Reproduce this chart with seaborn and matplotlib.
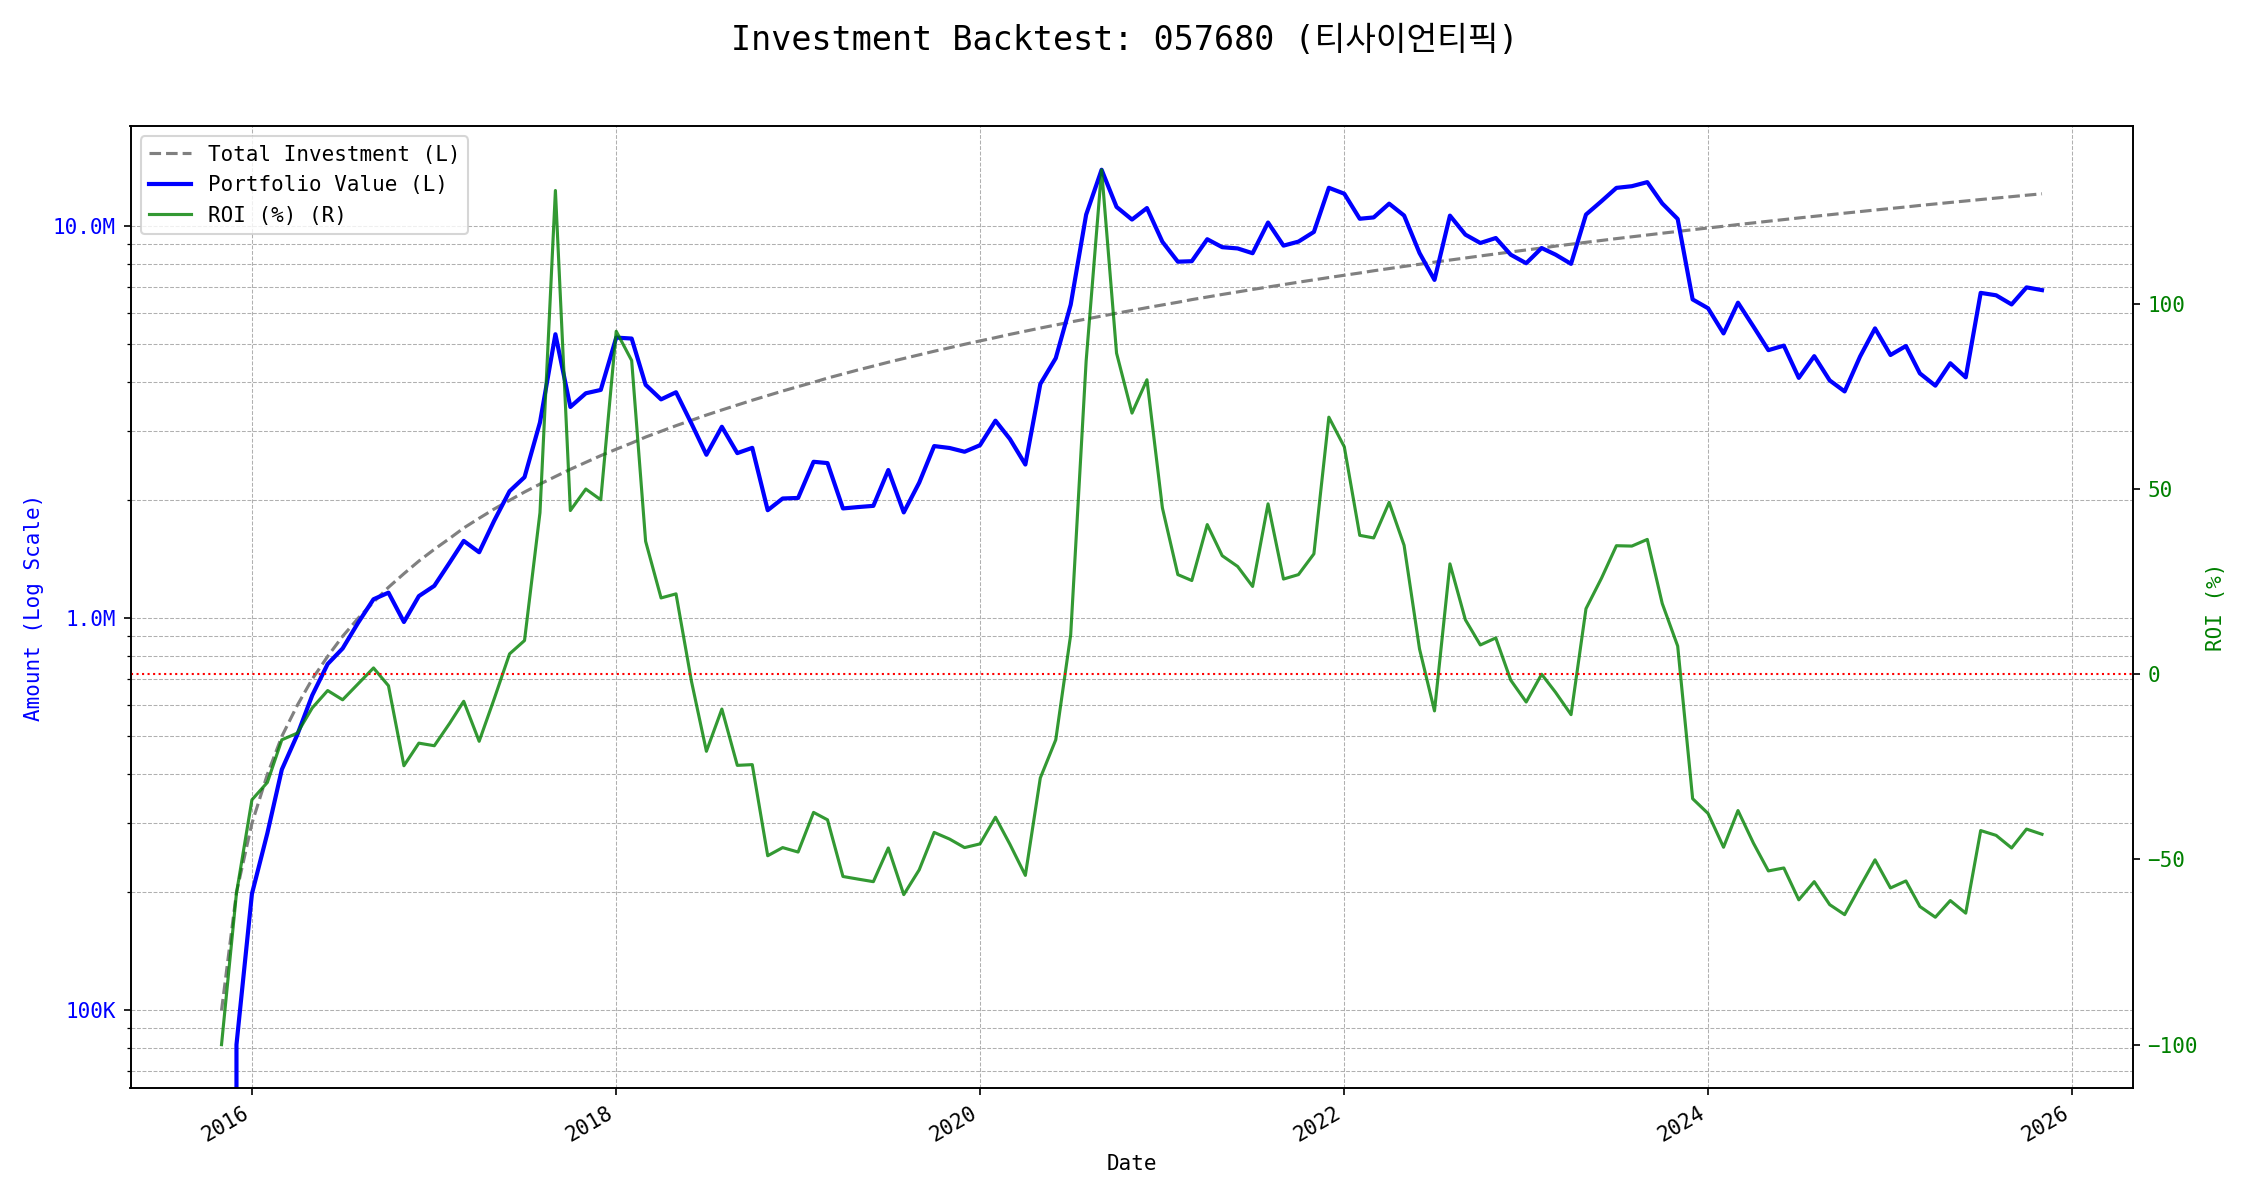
import numpy as np
import pandas as pd
import matplotlib
matplotlib.use("Agg")
import matplotlib.pyplot as plt
import matplotlib.dates as mdates
from matplotlib.ticker import FuncFormatter
import seaborn as sns

plt.rcParams["font.family"] = ["DejaVu Sans Mono", "Noto Sans CJK KR"]

ticker_code = "057680"
ticker_name = "티사이언티픽"

# monthly buy dates, Nov 2015 .. Nov 2025
months = pd.date_range("2015-11-01", "2025-11-01", freq="MS")

# cumulative amount invested, in thousands of won
invested_k = [
    100, 200, 300, 400, 500, 600, 700, 800, 900, 1000, 1100, 1200,
    1300, 1400, 1500, 1600, 1700, 1800, 1900, 2000, 2100, 2200, 2300, 2400,
    2500, 2600, 2700, 2800, 2900, 3000, 3100, 3200, 3300, 3400, 3500, 3600,
    3700, 3800, 3900, 4000, 4100, 4200, 4300, 4400, 4500, 4600, 4700, 4800,
    4900, 5000, 5100, 5200, 5300, 5400, 5500, 5600, 5700, 5800, 5900, 6000,
    6100, 6200, 6300, 6400, 6500, 6600, 6700, 6800, 6900, 7000, 7100, 7200,
    7300, 7400, 7500, 7600, 7700, 7800, 7900, 8000, 8100, 8200, 8300, 8400,
    8500, 8600, 8700, 8800, 8900, 9000, 9100, 9200, 9300, 9400, 9500, 9600,
    9700, 9800, 9900, 10000, 10100, 10200, 10300, 10400, 10500, 10600, 10700, 10800,
    10900, 11000, 11100, 11200, 11300, 11400, 11500, 11600, 11700, 11800, 11900, 12000,
    12100,
]

# return on the invested amount, %
roi_pct = [
    -100.0, -59.1, -33.9, -29.2, -17.7, -15.9, -9.1, -4.4, -6.9, -2.6,
    1.7, -3.1, -24.7, -18.6, -19.3, -13.2, -7.3, -18.1, -6.7, 5.5,
    9.1, 43.6, 130.6, 44.2, 50.0, 47.1, 92.6, 84.7, 35.9, 20.6,
    21.7, -1.9, -20.8, -9.4, -24.6, -24.4, -49.0, -46.8, -48.0, -37.3,
    -39.3, -54.6, -55.3, -56.0, -46.9, -59.5, -52.8, -42.7, -44.5, -46.8,
    -45.8, -38.6, -45.9, -54.3, -28.0, -17.7, 10.7, 84.6, 136.2, 86.7,
    70.5, 79.5, 44.9, 26.9, 25.3, 40.4, 32.0, 29.1, 23.7, 46.0,
    25.7, 26.9, 32.5, 69.4, 61.4, 37.5, 36.8, 46.4, 34.8, 6.8,
    -9.9, 29.8, 14.7, 7.9, 9.8, -1.6, -7.5, 0.0, -4.9, -10.9,
    17.7, 25.9, 34.7, 34.6, 36.4, 19.1, 7.6, -33.6, -37.6, -46.7,
    -36.8, -45.6, -53.1, -52.3, -60.9, -56.0, -62.2, -64.9, -57.3, -50.1,
    -57.7, -55.8, -62.7, -65.6, -61.1, -64.5, -42.2, -43.5, -46.9, -41.8,
    -43.2,
]

df = pd.DataFrame({
    "date": months,
    "invested": np.array(invested_k) * 1000,
    "roi": roi_pct,
})
df["value"] = df["invested"] * (1 + df["roi"] / 100)

fig, ax = plt.subplots(figsize=(15, 8), dpi=150)
ax2 = ax.twinx()

sns.lineplot(data=df, x="date", y="invested", ax=ax, color="gray", linestyle="--",
             linewidth=1.5, errorbar=None, label="Total Investment (L)")
sns.lineplot(data=df, x="date", y="value", ax=ax, color="blue", linewidth=2,
             errorbar=None, label="Portfolio Value (L)")
sns.lineplot(data=df, x="date", y="roi", ax=ax2, color="green", alpha=0.8,
             linewidth=1.5, errorbar=None, label="ROI (%) (R)")
ax2.axhline(0, color="red", linestyle=":", linewidth=1)

ax.set_yscale("log")
ax.yaxis.set_major_formatter(FuncFormatter(
    lambda v, _: f"{v / 1e6:.1f}M" if v >= 1e6 else f"{v / 1e3:.0f}K"))
ax.grid(True, which="both", linestyle="--", linewidth=0.5)

ax.xaxis.set_major_locator(mdates.YearLocator(2))
ax.xaxis.set_major_formatter(mdates.DateFormatter("%Y"))
plt.setp(ax.get_xticklabels(), rotation=30, ha="right")

ax.set_xlabel("Date")
ax.set_ylabel("Amount (Log Scale)", color="blue")
ax2.set_ylabel("ROI (%)", color="green")
ax.tick_params(axis="y", labelcolor="blue")
ax2.tick_params(axis="y", labelcolor="green")

if ax.get_legend() is not None:
    ax.get_legend().remove()
h1, l1 = ax.get_legend_handles_labels()
h2, l2 = ax2.get_legend_handles_labels()
ax2.legend(h1 + h2, l1 + l2, loc="upper left")

fig.suptitle(f"Investment Backtest: {ticker_code} ({ticker_name})", fontsize=16)
plt.subplots_adjust(left=0.058, right=0.948, top=0.895, bottom=0.093)
plt.savefig("out.png", dpi=150)
